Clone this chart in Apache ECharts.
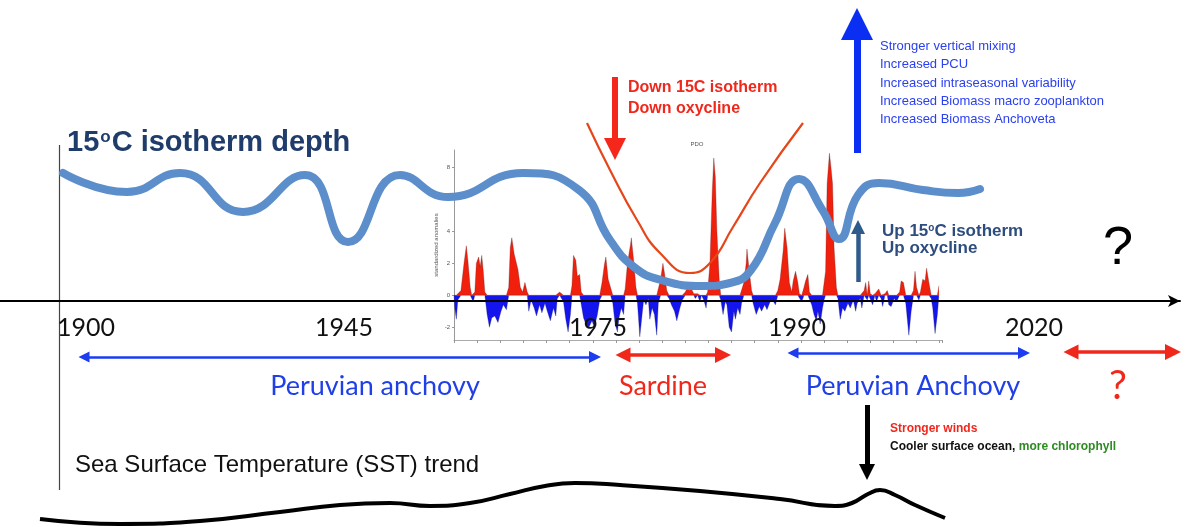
<!DOCTYPE html>
<html>
<head>
<meta charset="utf-8">
<script src="https://cdn.jsdelivr.net/npm/echarts@6.0.0/dist/echarts.min.js"></script>
<style>
  html, body { margin: 0; padding: 0; background: #fff; }
  #main { width: 1186px; height: 527px; }
</style>
</head>
<body>
<div id="main"></div>
<script>
// schematic time axis: positions of the year labels along the main axis
const yearTicks = [86, 344, 598, 797, 1034];
const yearLabels = ['1900', '1945', '1975', '1990', '2020'];

// 15C isotherm depth (schematic, height above the time axis)
const isoX = [63, 127, 180, 243, 305, 348, 400, 448, 523, 579, 610, 634, 661, 703, 730, 751, 775, 799, 823, 839, 858, 879, 923, 958, 980];
const isoY = [128, 109, 128, 89, 126, 59, 126, 104, 128, 111, 61, 34, 21, 15, 18, 31, 78, 122, 90, 62, 106, 118, 111, 108, 112];

// deeper isotherm curve during the sardine period
const paraX = [587, 610, 637, 660, 690, 710, 733, 760, 803];
const paraY = [178, 131, 81, 48, 28, 38, 74, 118, 178];

// SST trend (schematic)
const sstX = [40, 120, 200, 280, 340, 390, 430, 470, 510, 545, 575, 620, 700, 780, 835, 852, 868, 880, 895, 915, 945];
const sstY = [-218, -223, -220, -211, -204, -202, -205, -202, -193, -185, -182, -184, -190, -198, -205, -202, -193, -189, -194, -204, -217];

// PDO index inset (standardized anomalies)
const pdoYears = [
  1950.0, 1950.1, 1950.3, 1950.5, 1950.9, 1951.3, 1951.6, 1951.8, 1952.1, 1952.3, 1952.5, 1952.7, 1952.9,
  1953.2, 1953.4, 1953.6, 1953.8, 1954.0, 1954.3, 1954.6, 1954.9, 1955.3, 1955.7, 1956.1, 1956.4, 1956.8,
  1957.1, 1957.3, 1957.5, 1957.8, 1958.0, 1958.3, 1958.6, 1958.9, 1959.2, 1959.5, 1959.7, 1960.0, 1960.4,
  1960.7, 1961.1, 1961.4, 1961.8, 1962.1, 1962.5, 1962.9, 1963.2, 1963.4, 1963.7, 1963.9, 1964.2, 1964.5,
  1964.8, 1965.1, 1965.3, 1965.5, 1965.8, 1966.0, 1966.3, 1966.5, 1966.8, 1967.1, 1967.5, 1967.9, 1968.2,
  1968.6, 1968.9, 1969.2, 1969.5, 1969.7, 1970.0, 1970.3, 1970.6, 1970.9, 1971.2, 1971.4, 1971.7, 1972.0,
  1972.2, 1972.5, 1972.9, 1973.0, 1973.3, 1973.6, 1973.8, 1974.1, 1974.4, 1974.6, 1974.9, 1975.2, 1975.4,
  1975.7, 1976.0, 1976.3, 1976.5, 1976.8, 1977.1, 1977.3, 1977.6, 1977.9, 1978.2, 1978.6, 1978.9, 1979.3,
  1979.6, 1980.0, 1980.3, 1980.5, 1980.8, 1981.1, 1981.3, 1981.6, 1981.9, 1982.1, 1982.4, 1982.7, 1982.9,
  1983.2, 1983.5, 1983.7, 1983.9, 1984.1, 1984.4, 1984.6, 1984.9, 1985.2, 1985.4, 1985.7, 1986.0, 1986.3,
  1986.5, 1986.8, 1987.1, 1987.3, 1987.6, 1987.9, 1988.0, 1988.3, 1988.6, 1988.8, 1989.2, 1989.6, 1989.9,
  1990.3, 1990.6, 1991.0, 1991.3, 1991.7, 1992.0, 1992.3, 1992.7, 1992.9, 1993.2, 1993.5, 1993.8, 1994.0,
  1994.3, 1994.6, 1994.8, 1995.1, 1995.4, 1995.6, 1995.9, 1996.1, 1996.4, 1996.7, 1997.0, 1997.2, 1997.5,
  1997.8, 1998.0, 1998.2, 1998.4, 1998.7, 1998.9, 1999.1, 1999.3, 1999.6, 1999.8, 2000.1, 2000.4, 2000.7,
  2001.1, 2001.4, 2001.8, 2002.1, 2002.3, 2002.7, 2002.9, 2003.2, 2003.4, 2003.6, 2003.8, 2004.0, 2004.3,
  2004.6, 2004.8, 2005.1, 2005.4, 2005.6, 2005.9, 2006.2, 2006.4, 2006.7, 2007.1, 2007.4, 2007.8, 2008.0,
  2008.3, 2008.6, 2008.8, 2009.0, 2009.3, 2009.6, 2009.8, 2010.0, 2010.3, 2010.5, 2010.8, 2011.1, 2011.3,
  2011.6, 2011.9, 2012.1, 2012.4, 2012.7, 2012.9
];
const pdoValues = [
  0, -0.8, -1.5, -0.3, 0.3, 2.0, 3.1, 2.2, 0.5, 0, -0.4, 0.2, 2.0,
  2.4, 1.8, 2.5, 1.5, 0.2, -1.2, -2.0, -1.4, -1.3, -1.7, -1.0, -0.6, -0.9,
  0.5, 3.0, 3.6, 2.6, 2.7, 1.6, 0.5, 0.2, 0.8, 0.2, -1.0, -0.3, -0.8,
  -1.3, -0.6, -1.1, -0.5, -1.0, -1.6, -0.8, -1.3, -0.2, 0.2, 0.3, -0.4, -1.5,
  -2.3, -1.2, 0.6, 2.5, 2.2, 1.2, 1.3, 0.2, -1.4, -1.8, -2.0, -1.6, -2.0,
  -1.2, -0.3, 0.8, 1.9, 2.4, 1.0, 0.5, -0.5, -1.8, -2.3, -1.4, -0.8, -1.2,
  0.4, 2.0, 3.2, 3.6, 2.2, 0.5, -0.5, -2.6, -1.2, -0.3, -0.6, -0.2, -1.5,
  -0.8, -1.2, -2.5, -0.5, 1.0, 2.0, 1.4, 0.3, -0.2, -0.6, -1.0, -1.6, -0.8,
  -0.3, 0.2, 0.5, 0.3, 0.4, 0.1, -0.2, 0.1, -0.4, 0.1, -0.3, -0.8, 0.2,
  2.0, 6.5, 8.6, 7.4, 4.0, 1.0, -0.3, -1.2, -0.4, -0.6, -2.0, -2.3, -1.0,
  -1.5, -0.8, -1.2, -0.5, 0.8, 2.0, 2.9, 1.5, 0.3, -0.5, -1.2, -0.7, -1.0,
  -0.6, -0.9, -0.4, -0.3, -0.6, 0.3, 1.0, 2.8, 4.2, 3.0, 0.8, 0.2, 0.9,
  1.5, 0.8, 0.1, -0.4, 0.5, 0.9, 1.3, 0.2, -0.6, -1.2, -1.6, -1.0, -1.8,
  -0.8, -0.3, 1.5, 7.0, 8.9, 8.0, 7.0, 3.0, 0.5, -0.2, -1.5, -0.8, -1.0,
  -0.5, -0.8, -0.3, -1.0, -0.5, -0.2, -0.8, 0.3, 0.8, -0.3, 0.9, 0.1, -0.6,
  0.1, -0.4, 0.4, -0.2, -0.7, 0.1, 0.3, -0.6, -0.7, -0.2, -0.4, 0.2, 0.9,
  0.8, -0.5, -1.5, -2.5, -1.0, 0.3, 1.5, 0.5, -0.3, 0.2, 1.0, 0.9, 1.7,
  0.8, -0.2, -0.8, -2.4, -1.2, 0.6
];
const pdoTicks = [-2, 0, 2, 4, 6, 8];

const chart = echarts.init(document.getElementById('main'));

const pairs = (xs, ys) => xs.map((x, i) => [x, ys[i]]);
// positive part drawn red, negative part blue
const pdoPos = pdoYears.map((x, i) => [x, Math.max(pdoValues[i], 0)]);
const pdoNeg = pdoYears.map((x, i) => [x, Math.min(pdoValues[i], 0)]);

// straight arrow drawn as a lines series (coords in main axis units)
function arrow(from, to, color, width, symbol, size) {
  return {
    type: 'lines', coordinateSystem: 'cartesian2d', xAxisIndex: 0, yAxisIndex: 0, z: 6, silent: true,
    symbol: symbol, symbolSize: size,
    lineStyle: { color: color, width: width, opacity: 1, curveness: 0 },
    data: [{ coords: [from, to] }]
  };
}

function note(x, y, text, label) {
  return {
    value: [x, y],
    label: Object.assign({ show: true, opacity: 1, formatter: text, position: [0, 0], align: 'left', verticalAlign: 'middle' }, label)
  };
}

const bold = { fontFamily: 'Liberation Sans', fontWeight: 'bold' };
const big = { fontFamily: 'Lato', fontSize: 27, align: 'center' };

const notes = [
  note(67, 158, '15{s|o}C isotherm depth', Object.assign({
    fontSize: 29, color: '#1F3C6B',
    rich: { s: { fontFamily: 'Liberation Sans', fontWeight: 'bold', fontSize: 17, color: '#1F3C6B', verticalAlign: 'top', padding: [0, 1, 0, 1] } }
  }, bold)),
  note(628, 203, 'Down 15C isotherm\nDown oxycline', Object.assign({ fontSize: 16, lineHeight: 21, color: '#F0281C' }, bold)),
  note(880, 218, 'Stronger vertical mixing\nIncreased PCU\nIncreased intraseasonal variability\nIncreased Biomass macro zooplankton\nIncreased Biomass Anchoveta',
    { fontFamily: 'Liberation Sans', fontSize: 13, lineHeight: 18.3, color: '#2B40F0' }),
  note(882, 61, 'Up 15{s|o}C isotherm\nUp oxycline', Object.assign({
    fontSize: 17, lineHeight: 17, color: '#2E4D7F',
    rich: { s: { fontFamily: 'Liberation Sans', fontWeight: 'bold', fontSize: 10, color: '#2E4D7F', verticalAlign: 'top' } }
  }, bold)),
  note(1118, 52, '?', { fontFamily: 'Liberation Sans', fontSize: 54, color: '#000', align: 'center' }),
  note(697, 157, 'PDO', { fontFamily: 'Liberation Sans', fontSize: 6, color: '#555', align: 'center' }),
  note(375, -85, 'Peruvian anchovy', Object.assign({ color: '#1F3FE8' }, big)),
  note(663, -85, 'Sardine', Object.assign({ color: '#F0281C' }, big)),
  note(913, -85, 'Peruvian Anchovy', Object.assign({ color: '#1F3FE8' }, big)),
  note(1118, -85, '?', { fontFamily: 'Lato', fontSize: 40, color: '#F0281C', align: 'center' }),
  note(890, -137, '{r|Stronger winds}\n{k|Cooler surface ocean, }{g|more chlorophyll}', {
    lineHeight: 18,
    rich: {
      r: { fontFamily: 'Liberation Sans', fontWeight: 'bold', fontSize: 12, color: '#F0281C', lineHeight: 18 },
      k: { fontFamily: 'Liberation Sans', fontWeight: 'bold', fontSize: 12, color: '#111', lineHeight: 18 },
      g: { fontFamily: 'Liberation Sans', fontWeight: 'bold', fontSize: 12, color: '#2E8B22', lineHeight: 18 }
    }
  }),
  note(75, -164, 'Sea Surface Temperature (SST) trend', { fontFamily: 'Liberation Sans', fontSize: 24, color: '#111' })
].concat(yearTicks.map((x, i) => note(x, -27, yearLabels[i], { fontFamily: 'Lato', fontSize: 25, color: '#111', align: 'center' })));

const option = {
  backgroundColor: '#fff',
  animation: false,
  grid: [
    { left: 0, right: 6, top: 0, bottom: 0, containLabel: false, outerBoundsMode: 'none' },
    { left: 454, top: 150, width: 488, height: 190, containLabel: false, outerBoundsMode: 'none' }
  ],
  xAxis: [
    {
      type: 'value', gridIndex: 0, min: 0, max: 1180, z: 10,
      splitLine: { show: false },
      axisTick: { show: false },
      axisLabel: { show: false },
      axisLine: { onZero: true, symbol: ['none', 'arrow'], symbolSize: [9, 12], lineStyle: { color: '#000', width: 2 } }
    },
    {
      type: 'value', gridIndex: 1, min: 1950, max: 2013.3, interval: 3,
      splitLine: { show: false },
      axisLine: { onZero: false, lineStyle: { color: '#aaa', width: 1 } },
      axisTick: { length: 3, lineStyle: { color: '#999' } },
      axisLabel: { show: false }
    }
  ],
  yAxis: [
    { type: 'value', gridIndex: 0, min: -226, max: 301, show: false },
    {
      type: 'value', gridIndex: 1, min: -2.8, max: 9.1,
      name: 'standardized anomalies', nameLocation: 'middle', nameGap: 15,
      nameTextStyle: { fontFamily: 'Liberation Sans', fontSize: 6, color: '#555' },
      splitLine: { show: false },
      axisLine: { show: true, lineStyle: { color: '#999', width: 1 } },
      axisTick: { customValues: pdoTicks, length: 2, lineStyle: { color: '#999' } },
      axisLabel: { customValues: pdoTicks, margin: 4, fontFamily: 'Liberation Sans', fontSize: 6, color: '#555' }
    }
  ],
  series: [
    {
      name: 'PDO +', type: 'line', xAxisIndex: 1, yAxisIndex: 1, z: 1,
      data: pdoPos, symbol: 'none', smooth: false,
      lineStyle: { width: 0.6, color: '#5a1a1a', opacity: 0.5 },
      areaStyle: { color: '#F0200C', opacity: 1 }
    },
    {
      name: 'PDO -', type: 'line', xAxisIndex: 1, yAxisIndex: 1, z: 1,
      data: pdoNeg, symbol: 'none', smooth: false,
      lineStyle: { width: 0.6, color: '#1a1a5a', opacity: 0.5 },
      areaStyle: { color: '#1414EE', opacity: 1 }
    },
    {
      name: 'frame', type: 'lines', coordinateSystem: 'cartesian2d', xAxisIndex: 0, yAxisIndex: 0, z: 2, silent: true,
      lineStyle: { color: '#444', width: 1.2, opacity: 1 },
      data: [{ coords: [[59, 156], [59, -189]] }]
    },
    {
      name: '15C isotherm depth', type: 'line', xAxisIndex: 0, yAxisIndex: 0, z: 3,
      data: pairs(isoX, isoY), symbol: 'none', smooth: 0.5,
      lineStyle: { color: '#5B8ECB', width: 8, cap: 'round' }
    },
    {
      name: 'deep isotherm', type: 'line', xAxisIndex: 0, yAxisIndex: 0, z: 4,
      data: pairs(paraX, paraY), symbol: 'none', smooth: 0.5,
      lineStyle: { color: '#E5461A', width: 2.2 }
    },
    {
      name: 'SST trend', type: 'line', xAxisIndex: 0, yAxisIndex: 0, z: 3,
      data: pairs(sstX, sstY), symbol: 'none', smooth: 0.5,
      lineStyle: { color: '#000', width: 4 }
    },
    arrow([857, 148], [857, 277], '#0B2FF2', 7, ['none', 'triangle'], [24, 32]),
    arrow([615, 224], [615, 152], '#F5261A', 6, ['none', 'triangle'], [24, 22]),
    arrow([858, 19], [858, 74], '#2F5A8C', 4.5, ['none', 'triangle'], [18, 14]),
    arrow([867, -104], [867, -171], '#000', 5, ['none', 'triangle'], [22, 16]),
    arrow([84, -56], [595, -56], '#1C3CF0', 2.5, ['triangle', 'triangle'], [11, 12]),
    arrow([623, -54], [723, -54], '#F0281C', 3.5, ['triangle', 'triangle'], [15, 16]),
    arrow([793, -52], [1024, -52], '#1C3CF0', 2.5, ['triangle', 'triangle'], [11, 12]),
    arrow([1071, -51], [1173, -51], '#F0281C', 3.5, ['triangle', 'triangle'], [15, 16]),
    {
      name: 'notes', type: 'scatter', xAxisIndex: 0, yAxisIndex: 0, z: 7, symbolSize: 0, silent: true,
      itemStyle: { opacity: 1 },
      data: notes
    }
  ]
};

chart.setOption(option);
window.addEventListener('resize', () => chart.resize());
</script>
</body>
</html>
